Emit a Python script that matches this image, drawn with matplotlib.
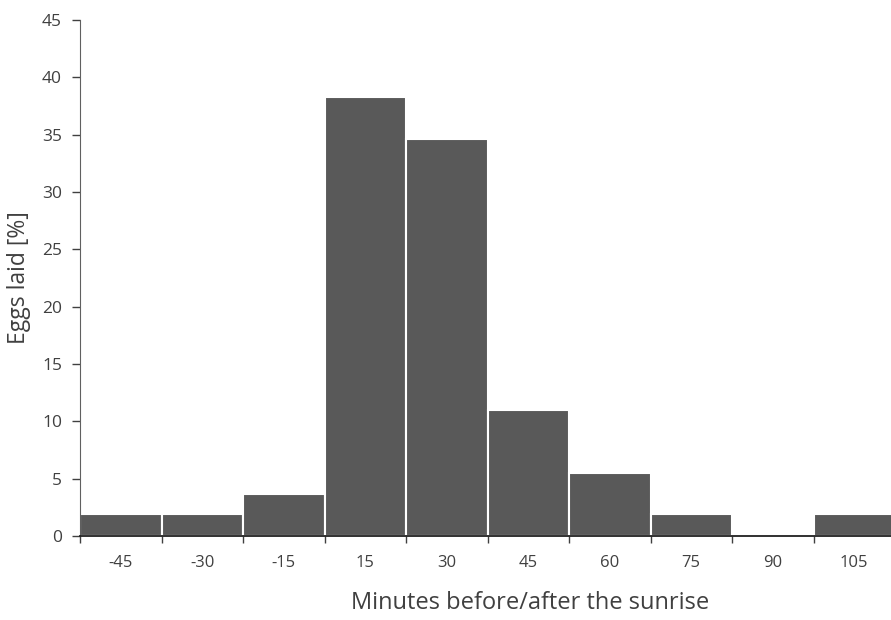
import matplotlib.pyplot as plt

categorias = ["-45", "-30", "-15", "15", "30", "45", "60", "75", "90", "105"]
huevos = [1.9, 1.9, 3.7, 38.3, 34.6, 11.0, 5.5, 1.9, 0, 1.9]

plt.rcParams['font.family'] = ['Open Sans', 'DejaVu Sans']

fig = plt.figure(figsize=(8.91, 6.20), dpi=100)
ax = fig.add_axes([80 / 891, 1 - 536 / 620, 815 / 891, 516 / 620])

x = range(len(categorias))
ax.bar(x, huevos, width=1.0, color='#595959', edgecolor='white', linewidth=1.5)

ax.set_xlim(-0.5, len(categorias) - 0.5)
ax.set_ylim(0, 45)
ax.set_yticks(range(0, 46, 5))

# ticks del eje x en los bordes de las categorias
ax.set_xticks([i - 0.5 for i in range(len(categorias) + 1)])
ax.set_xticklabels([])
ax.set_xticks(list(x), minor=True)
ax.set_xticklabels(categorias, minor=True)
ax.tick_params(axis='x', which='minor', length=0, pad=14, labelsize=12, labelcolor='#404040')
ax.tick_params(axis='x', which='major', length=5, width=1, color='#404040')
ax.tick_params(axis='y', length=6, width=1, color='#404040', labelsize=12.5, labelcolor='#404040', pad=7)

for lado in ['top', 'right']:
    ax.spines[lado].set_visible(False)
ax.spines['left'].set_color('#606060')
ax.spines['bottom'].set_color('#202020')
ax.spines['bottom'].set_linewidth(1.3)

ax.set_xlabel("Minutes before/after the sunrise", fontsize=17, color='#404040')
ax.xaxis.set_label_coords(0.552, -0.106)
ax.set_ylabel("Eggs laid [%]", fontsize=16.5, color='#404040', labelpad=8)

fig.savefig("out.png", dpi=100)
